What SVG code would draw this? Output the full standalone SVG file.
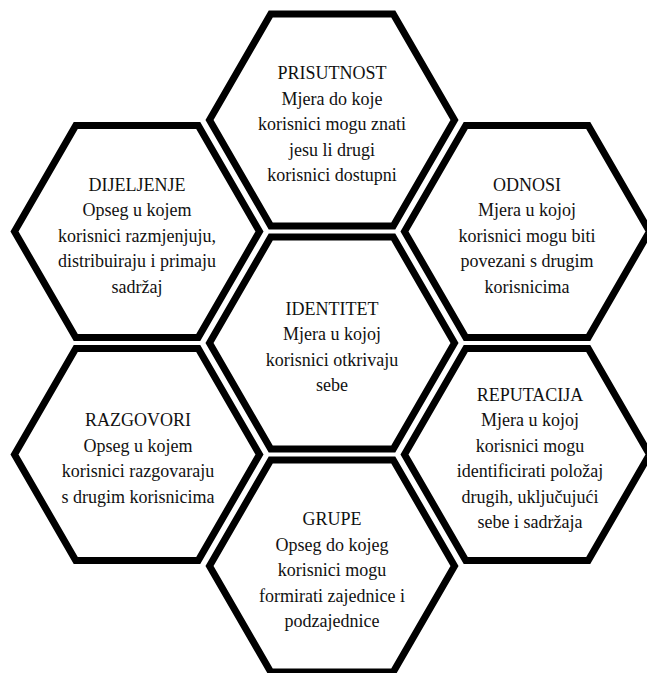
<svg xmlns="http://www.w3.org/2000/svg" xmlns:xlink="http://www.w3.org/1999/xlink" width="647" height="673" viewBox="0 0 647 673">
<style>
.hex{fill:#fff;stroke:#000;stroke-width:7;stroke-linejoin:miter;stroke-miterlimit:4}
.t{font-family:"Liberation Serif","Times New Roman",serif;font-size:18px;fill:#111;text-anchor:middle}
</style>
<defs>
<polygon id="hexshape" points="-122.5,0 -61.25,-106 61.25,-106 122.5,0 61.25,106 -61.25,106"/>
</defs>
<rect width="647" height="673" fill="#fff"/>
<g id="connectors"/>
<g id="prisutnost">
<use href="#hexshape" xlink:href="#hexshape" class="hex" transform="translate(332,120)"/>
<text class="t" x="332" y="79">PRISUTNOST</text>
<text class="t" x="332" y="104.5">Mjera do koje</text>
<text class="t" x="332" y="130">korisnici mogu znati</text>
<text class="t" x="332" y="155.5">jesu li drugi</text>
<text class="t" x="332" y="181">korisnici dostupni</text>
</g>
<g id="dijeljenje">
<use href="#hexshape" xlink:href="#hexshape" class="hex" transform="translate(137,231.5)"/>
<text class="t" x="137" y="190.5">DIJELJENJE</text>
<text class="t" x="137" y="216">Opseg u kojem</text>
<text class="t" x="137" y="241.5">korisnici razmjenjuju,</text>
<text class="t" x="137" y="267">distribuiraju i primaju</text>
<text class="t" x="137" y="292.5">sadržaj</text>
</g>
<g id="odnosi">
<use href="#hexshape" xlink:href="#hexshape" class="hex" transform="translate(527,231.5)"/>
<text class="t" x="527" y="190.5">ODNOSI</text>
<text class="t" x="527" y="216">Mjera u kojoj</text>
<text class="t" x="527" y="241.5">korisnici mogu biti</text>
<text class="t" x="527" y="267">povezani s drugim</text>
<text class="t" x="527" y="292.5">korisnicima</text>
</g>
<g id="identitet">
<use href="#hexshape" xlink:href="#hexshape" class="hex" transform="translate(332,343)"/>
<text class="t" x="332" y="314.75">IDENTITET</text>
<text class="t" x="332" y="340.25">Mjera u kojoj</text>
<text class="t" x="332" y="365.75">korisnici otkrivaju</text>
<text class="t" x="332" y="391.25">sebe</text>
</g>
<g id="razgovori">
<use href="#hexshape" xlink:href="#hexshape" class="hex" transform="translate(137,454.5)"/>
<text class="t" x="138" y="426.25">RAZGOVORI</text>
<text class="t" x="138" y="451.75">Opseg u kojem</text>
<text class="t" x="138" y="477.25">korisnici razgovaraju</text>
<text class="t" x="138" y="502.75">s drugim korisnicima</text>
</g>
<g id="reputacija">
<use href="#hexshape" xlink:href="#hexshape" class="hex" transform="translate(527,454.5)"/>
<text class="t" x="530" y="400.75">REPUTACIJA</text>
<text class="t" x="530" y="426.25">Mjera u kojoj</text>
<text class="t" x="530" y="451.75">korisnici mogu</text>
<text class="t" x="530" y="477.25">identificirati položaj</text>
<text class="t" x="530" y="502.75">drugih, uključujući</text>
<text class="t" x="530" y="528.25">sebe i sadržaja</text>
</g>
<g id="grupe">
<use href="#hexshape" xlink:href="#hexshape" class="hex" transform="translate(332,566)"/>
<text class="t" x="332" y="525">GRUPE</text>
<text class="t" x="332" y="550.5">Opseg do kojeg</text>
<text class="t" x="332" y="576">korisnici mogu</text>
<text class="t" x="332" y="601.5">formirati zajednice i</text>
<text class="t" x="332" y="627">podzajednice</text>
</g>
</svg>
